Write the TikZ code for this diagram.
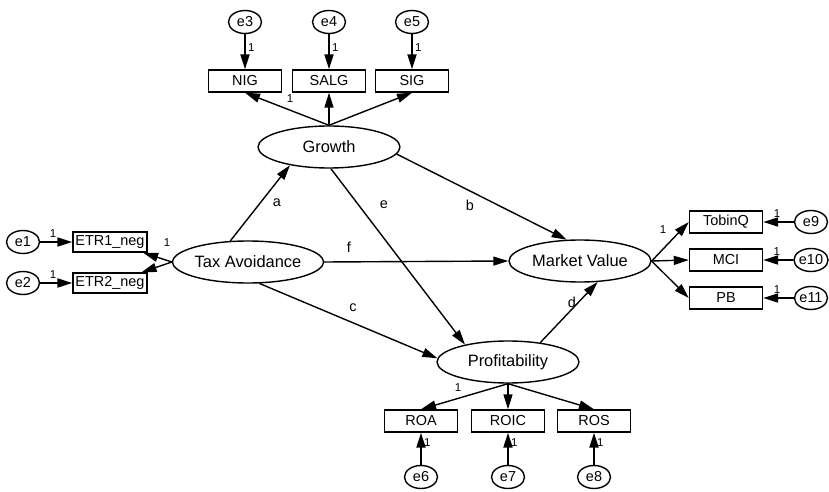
\documentclass[tikz,border=0pt]{standalone}
\usepackage{fontspec}
\setmainfont{Liberation Sans}
\usepackage{tikz}
\usetikzlibrary{shapes,arrows,positioning,calc,arrows.meta}

\tikzset{
  latent/.style={draw, ellipse, line width=1.4bp, minimum width=142bp, minimum height=42bp, inner sep=0pt, font=\fontsize{16.5}{18}\selectfont},
  observed/.style={draw, rectangle, line width=1.4bp, minimum width=73bp, minimum height=22bp, inner sep=0pt, font=\fontsize{14.5}{16}\selectfont},
  errvar/.style={draw, ellipse, line width=1.4bp, minimum width=33bp, minimum height=23bp, inner sep=0pt, font=\fontsize{14.5}{16}\selectfont},
  regr/.style={-{Triangle[length=15bp,width=9bp]}, line width=1.4bp},
  errpath/.style={regr, line width=2bp},
  lbl/.style={font=\fontsize{14.5}{16}\selectfont, inner sep=0pt},
  one/.style={font=\fontsize{11.5}{13}\selectfont, inner sep=0pt},
}

\begin{document}
\begin{tikzpicture}[x=1bp, y=-1bp]
    \useasboundingbox (0,0) rectangle (829,492);

    % Latent variables
    \node[latent] (G) at (329,147) {Growth};
    \node[latent] (TA) at (248,262) {Tax Avoidance};
    \node[latent] (MV) at (580,261) {Market Value};
    \node[latent] (P) at (508,362) {Profitability};

    % Growth indicators
    \node[observed] (NIG) at (245,81) {NIG};
    \node[observed] (SALG) at (329,81) {SALG};
    \node[observed] (SIG) at (412,81) {SIG};
    \node[errvar] (e3) at (245,22) {e3};
    \node[errvar] (e4) at (329,22) {e4};
    \node[errvar] (e5) at (412,22) {e5};
    \draw[errpath] (e3) -- node[one, right=2bp, pos=0.37] (o3) {1} (NIG);
    \draw[errpath] (e4) -- node[one, right=2bp, pos=0.37] (o4) {1} (SALG);
    \draw[errpath] (e5) -- node[one, right=2bp, pos=0.37] (o5) {1} (SIG);
    \draw[regr] (G.north) -- (NIG.south);
    \draw[regr] (G.north) -- (SALG.south);
    \draw[regr] (G.north) -- (SIG.south);
    \node[one] (oG) at (290,99) {1};

    % Tax avoidance indicators
    \node[observed, minimum width=74bp, minimum height=20bp] (ETR1) at (110,242) {ETR1\_neg};
    \node[observed, minimum width=74bp, minimum height=20bp] (ETR2) at (110,283) {ETR2\_neg};
    \node[errvar] (e1) at (23,242) {e1};
    \node[errvar] (e2) at (23,283) {e2};
    \draw[errpath] (e1) -- node[one, above=3bp, pos=0.4] (o1) {1} (ETR1);
    \draw[errpath] (e2) -- node[one, above=3bp, pos=0.4] (o2) {1} (ETR2);
    \draw[regr] (TA.west) -- (ETR1);
    \draw[regr] (TA.west) -- (ETR2);
    \node[one] (oTA) at (167,243) {1};

    % Market value indicators
    \node[observed] (TQ) at (726,222) {TobinQ};
    \node[observed] (MCI) at (726,260) {MCI};
    \node[observed] (PB) at (726,298) {PB};
    \node[errvar] (e9) at (811,222) {e9};
    \node[errvar] (e10) at (811,260) {e10};
    \node[errvar] (e11) at (811,298) {e11};
    \draw[errpath] (e9) -- node[one, above=3bp, pos=0.55] (o9) {1} (TQ);
    \draw[errpath] (e10) -- node[one, above=3bp, pos=0.55] (o10) {1} (MCI);
    \draw[errpath] (e11) -- node[one, above=3bp, pos=0.55] (o11) {1} (PB);
    \draw[regr] (MV.east) -- (TQ.west);
    \draw[regr] (MV.east) -- (MCI.west);
    \draw[regr] (MV.east) -- (PB.west);
    \node[one] (oMV) at (663,230) {1};

    % Profitability indicators
    \node[observed] (ROA) at (421,421) {ROA};
    \node[observed] (ROIC) at (508,421) {ROIC};
    \node[observed] (ROS) at (594,421) {ROS};
    \node[errvar] (e6) at (421,477) {e6};
    \node[errvar] (e7) at (508,477) {e7};
    \node[errvar] (e8) at (594,477) {e8};
    \draw[errpath] (e6) -- node[one, right=2bp, pos=0.7] (o6) {1} (ROA);
    \draw[errpath] (e7) -- node[one, right=2bp, pos=0.7] (o7) {1} (ROIC);
    \draw[errpath] (e8) -- node[one, right=2bp, pos=0.7] (o8) {1} (ROS);
    \draw[regr] (P.south) -- (ROA.north);
    \draw[regr] (P.south) -- (ROIC.north);
    \draw[regr] (P.south) -- (ROS.north);
    \node[one] (oP) at (458,388) {1};

    % Structural paths
    \draw[regr] (TA.130) -- (G.205);
    \draw[regr] (G.354) -- (MV.122);
    \draw[regr] (G.275) -- (P.158);
    \draw[regr] (TA.east) -- (MV.west);
    \draw[regr] (TA.298) -- (P.177);
    \draw[regr] (P.31) -- (MV.310);
    \node[lbl] (la) at (277,203) {a};
    \node[lbl] (lb) at (470,205) {b};
    \node[lbl] (le) at (384,205) {e};
    \node[lbl] (lf) at (349,247) {f};
    \node[lbl] (lc) at (353,308) {c};
    \node[lbl] (ld) at (572,302) {d};

\end{tikzpicture}
\end{document}
